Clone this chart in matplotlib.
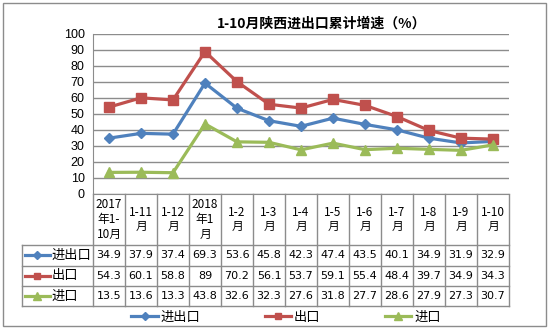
import matplotlib
matplotlib.use('Agg')
import matplotlib.pyplot as plt
from matplotlib.lines import Line2D
from matplotlib.patches import Rectangle

plt.rcParams['font.family'] = ['Noto Sans CJK SC', 'DejaVu Sans']

# 数据
categories = ['2017\n年1-\n10月', '1-11\n月', '1-12\n月', '2018\n年1\n月', '1-2\n月', '1-3\n月',
              '1-4\n月', '1-5\n月', '1-6\n月', '1-7\n月', '1-8\n月', '1-9\n月', '1-10\n月']
total = [34.9, 37.9, 37.4, 69.3, 53.6, 45.8, 42.3, 47.4, 43.5, 40.1, 34.9, 31.9, 32.9]
export = [54.3, 60.1, 58.8, 89, 70.2, 56.1, 53.7, 59.1, 55.4, 48.4, 39.7, 34.9, 34.3]
imports = [13.5, 13.6, 13.3, 43.8, 32.6, 32.3, 27.6, 31.8, 27.7, 28.6, 27.9, 27.3, 30.7]
yticks = list(range(0, 101, 10))

series = [
    ('进出口', total, '#4F81BD', 'D', 5.5),
    ('出口', export, '#C0504D', 's', 7),
    ('进口', imports, '#9BBB59', '^', 7.5),
]

W, H = 549, 329
gray = '#8C8C8C'

fig = plt.figure(figsize=(W / 100, H / 100), dpi=100)

# 外框
fig.add_artist(Rectangle((3 / W, 3 / H), 543 / W, 323 / H, transform=fig.transFigure,
                         fill=False, edgecolor=gray, lw=1))

# 图区
x0, x1, ytop, ybot = 93, 509, 34, 194
ax = fig.add_axes([x0 / W, 1 - ybot / H, (x1 - x0) / W, (ybot - ytop) / H])
n = len(categories)
xs = list(range(n))
for name, vals, col, mk, ms in series:
    ax.plot(xs, vals, color=col, marker=mk, markersize=ms, lw=2.3, label=name)
ax.set_xlim(-0.5, n - 0.5)
ax.set_ylim(0, 100)
ax.set_yticks(yticks)
ax.set_yticklabels([str(v) for v in yticks], family='Liberation Sans', fontsize=9)
ax.set_xticks([])
ax.tick_params(axis='y', length=0, pad=6)
ax.grid(axis='y', color=gray, lw=1)
ax.set_axisbelow(True)
for s in ['top', 'right']:
    ax.spines[s].set_visible(False)
ax.spines['left'].set_color(gray)
ax.spines['bottom'].set_color(gray)

fig.text(322 / W, 1 - 24 / H, '1-10月陕西进出口累计增速（%）', ha='center', va='center',
         fontsize=10, fontweight='bold')

# 数据表
tl, tb = 22, 306
ta = fig.add_axes([tl / W, 1 - tb / H, (x1 - tl) / W, (tb - ybot) / H])
ta.axis('off')
cw = (x1 - x0) / n
k = (x0 - tl) / cw
ta.set_xlim(-0.5 - k, n - 0.5)
ta.set_ylim(tb - ybot, 0)
hdr = 51
rows = [hdr, hdr + 20.5, hdr + 41, tb - ybot]
for i in range(n + 1):
    ta.plot([i - 0.5, i - 0.5], [0, rows[-1]], color=gray, lw=1, clip_on=False)
ta.plot([-0.5 - k, -0.5 - k], [hdr, rows[-1]], color=gray, lw=1, clip_on=False)
for y in rows:
    ta.plot([-0.5 - k, n - 0.5], [y, y], color=gray, lw=1, clip_on=False)
for i, c in enumerate(categories):
    ta.text(i, hdr / 2, c, ha='center', va='center', fontsize=8.5, linespacing=1.15)
for r, (name, vals, col, mk, ms) in enumerate(series):
    yc = (rows[r] + rows[r + 1]) / 2
    for i, v in enumerate(vals):
        ta.text(i, yc, str(v), ha='center', va='center', fontsize=8, family='DejaVu Sans')
    lx0 = -0.5 - k + 0.08
    ta.plot([lx0, lx0 + 0.8], [yc, yc], color=col, lw=2.3, clip_on=False)
    ta.plot([lx0 + 0.4], [yc], color=col, marker=mk, markersize=ms * 0.7, clip_on=False)
    ta.text(lx0 + 0.85, yc, name, ha='left', va='center', fontsize=9.5)

# 图例
handles, labels = ax.get_legend_handles_labels()
fig.legend(handles, labels, loc='center', bbox_to_anchor=(286 / W, 1 - 317 / H), ncol=3,
           frameon=False, fontsize=9.5, handlelength=2.0, handletextpad=0.2,
           columnspacing=4.9, markerscale=0.7)

fig.savefig('out.png', dpi=100)
